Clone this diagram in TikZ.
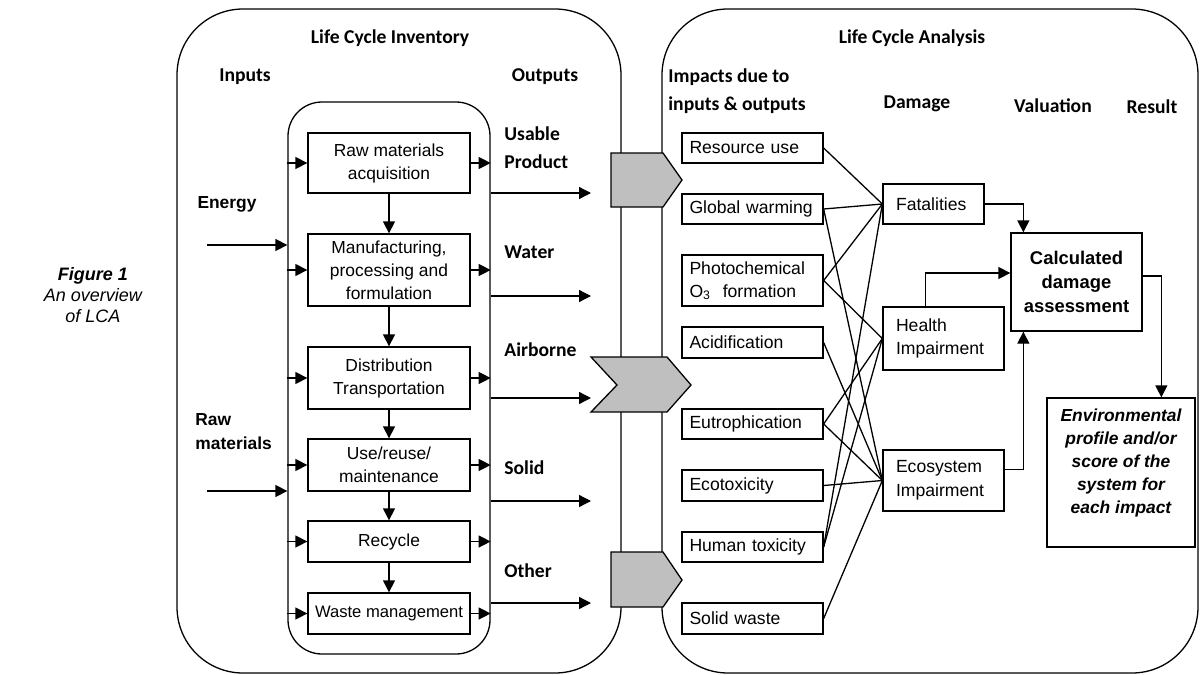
\documentclass[tikz,border=0pt]{standalone}
\usepackage{fontspec}
\setmainfont{Liberation Sans}
\newfontfamily\calibri{Carlito}
\usetikzlibrary{arrows.meta,calc,positioning}

\tikzset{
  panel/.style={draw, line width=0.65pt, rounded corners=33pt},
  stage/.style={draw, line width=0.65pt, minimum width=81pt, inner sep=0pt, align=center,
    font=\fontsize{8.7}{11.5}\selectfont},
  impact/.style={draw, line width=0.65pt, minimum width=70.5pt, text width=63pt, inner xsep=3.75pt,
    inner ysep=0pt, align=left, font=\fontsize{8.8}{11.5}\selectfont},
  damage/.style={draw, line width=0.65pt, inner xsep=6.5pt, inner ysep=0pt, align=left,
    font=\fontsize{8.8}{11.8}\selectfont},
  head/.style={font=\calibri\bfseries\fontsize{9.8}{14}\selectfont, align=left, inner sep=0pt},
  inlabel/.style={font=\bfseries\fontsize{8.7}{12}\selectfont, align=left, inner sep=0pt},
  arr/.style={line width=0.65pt, -{Triangle[length=6pt,width=6pt]}},
  link/.style={line width=0.65pt},
  block/.style={draw, line width=0.65pt, fill=gray!50},
}

\begin{document}
\begin{tikzpicture}[x=0.5pt,y=-0.5pt]
\useasboundingbox (0,0) rectangle (1200,675);

% 两个大框
\node[panel, minimum width=222pt, minimum height=332pt] (lci) at (399,341) {};
\node[panel, minimum width=268pt, minimum height=332pt] (lca) at (930,341) {};
\node[panel, rounded corners=17pt, minimum width=101pt, minimum height=276pt] (inner) at (389,378) {};

% 标题
\node[head] (tlci) at (390,38) {Life Cycle Inventory};
\node[head] (tin) at (245,77) {Inputs};
\node[head] (tout) at (545,77) {Outputs};
\node[head] (tlca) at (912,38) {Life Cycle Analysis};
\node[head, anchor=west] (timp) at (668,91) {Impacts due to\\inputs \& outputs};
\node[head] (tdam) at (917,104) {Damage};
\node[head] (tval) at (1053,106) {Valuation};
\node[head] (tres) at (1152,107) {Result};

\node[font=\itshape\fontsize{9}{10.4}\selectfont, align=center] (cap) at (93,295)
  {\textbf{Figure 1}\\An overview\\of LCA};

% 输入
\node[inlabel] (lenergy) at (227,204) {Energy};
\node[inlabel, anchor=west] (lraw) at (195,432) {Raw\\materials};
\coordinate (energy) at (207,245);
\coordinate (raw) at (207,491);
\draw[arr] (energy) -- (energy -| inner.west);
\draw[arr] (raw) -- (raw -| inner.west);

% 生命周期各阶段
\node[stage, minimum height=30pt] (s1) at (389,163) {Raw materials\\acquisition};
\node[stage, minimum height=36pt] (s2) at (389,270) {Manufacturing,\\processing and\\formulation};
\node[stage, minimum height=31pt] (s3) at (389,378) {Distribution\\Transportation};
\node[stage, minimum height=26pt] (s4) at (389,465) {Use/reuse/\\maintenance};
\node[stage, minimum height=20.5pt] (s5) at (389,541.5) {Recycle};
\node[stage, minimum height=20.5pt, font=\fontsize{8.3}{11.5}\selectfont] (s6) at (389,613.5) {Waste management};

\foreach \i in {1,...,6} {
  \draw[arr] (s\i.west -| inner.west) -- (s\i.west);
  \draw[arr] (s\i.east) -- (s\i.east -| inner.east);
}
\foreach \i/\j in {1/2,2/3,3/4,4/5,5/6}
  \draw[arr] (s\i.south) -- (s\j.north);

% 输出
\node[head, anchor=west] (lusable) at (504,148) {Usable\\Product};
\node[head, anchor=west] (lwater) at (504,252) {Water};
\node[head, anchor=west] (lair) at (504,350) {Airborne};
\node[head, anchor=west] (lsolid) at (504,468) {Solid};
\node[head, anchor=west] (lother) at (504,571) {Other};

\foreach \y [count=\n] in {193,296,398,501,603}
  \coordinate (out\n) at (591,\y);
\foreach \n in {1,...,5}
  \draw[arr] (out\n -| inner.east) -- (out\n);

% 灰色连接块
\draw[block] (611,153) -- (663,153) -- (682,180) -- (663,207) -- (611,207) -- cycle;
\draw[block] (591,357) -- (667,357) -- (691,385) -- (667,412) -- (591,412) -- (617,385) -- cycle;
\draw[block] (611,552) -- (663,552) -- (682,580) -- (663,607) -- (611,607) -- cycle;

% 影响类别
\node[impact, minimum height=15pt] (i1) at (752.5,148) {Resource use};
\node[impact, minimum height=15pt] (i2) at (752.5,209) {Global warming};
\node[impact, minimum height=25.5pt] (i3) at (752.5,280.5) {Photochemical\\O\textsubscript{3}\ \ formation};
\node[impact, minimum height=15.5pt] (i4) at (752.5,342.5) {Acidification};
\node[impact, minimum height=15pt] (i5) at (752.5,424) {Eutrophication};
\node[impact, minimum height=15.5pt] (i6) at (752.5,485.5) {Ecotoxicity};
\node[impact, minimum height=15pt] (i7) at (752.5,547) {Human toxicity};
\node[impact, minimum height=15.5pt] (i8) at (752.5,618.5) {Solid waste};

% 损害
\node[damage, text width=37.5pt, minimum height=20pt] (fat) at (933.5,204) {Fatalities};
\node[damage, text width=47.5pt, minimum height=31.5pt] (hea) at (943.5,338.5) {Health\\Impairment};
\node[damage, text width=47.5pt, minimum height=30.5pt] (eco) at (943.5,480.5) {Ecosystem\\Impairment};

\foreach \a/\b in {i1/fat,i2/fat,i2/eco,i3/fat,i3/hea,i4/eco,i5/hea,i5/eco,i6/eco,i7/fat,i7/hea,i8/eco}
  \draw[link] (\a.east) -- (\b.west);

% 评估与结果
\node[draw, line width=0.65pt, minimum width=65.5pt, minimum height=49pt, inner sep=0pt, align=center,
  font=\bfseries\fontsize{9.2}{12}\selectfont] (assess) at (1076.5,282) {Calculated\\damage\\assessment};
\node[draw, line width=0.65pt, minimum width=74pt, minimum height=74.5pt, inner sep=0pt, align=center,
  font=\bfseries\itshape\fontsize{8.7}{11.5}\selectfont] (env) at (1121,472.5)
  {Environmental\\profile and/or\\score of the\\system for\\each impact\\~};

\draw[arr] (fat.east) -| ($(assess.north west)+(13,0)$);
\draw[arr] ($(hea.north west)+(43,0)$) |- ($(assess.west)+(0,-9)$);
\draw[arr] ($(eco.east)+(0,-11)$) -| ($(assess.south west)+(13,0)$);
\draw[arr] ($(assess.east)+(0,-6)$) -| ($(env.north west)+(115,0)$);
\end{tikzpicture}
\end{document}
